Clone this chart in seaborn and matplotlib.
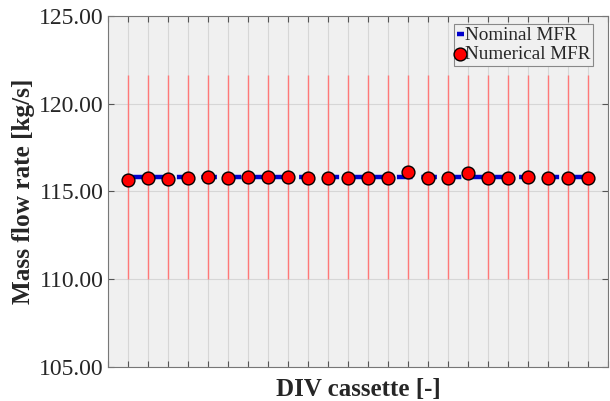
import numpy as np
import pandas as pd
import matplotlib
matplotlib.use("Agg")
import matplotlib.pyplot as plt
import seaborn as sns

cassette = list(range(1, 25))
nominal_mfr = [115.82] * 24
numerical_mfr = [115.65, 115.76, 115.71, 115.78, 115.80, 115.78, 115.80, 115.82,
                 115.80, 115.78, 115.79, 115.78, 115.77, 115.76, 116.12, 115.78,
                 115.77, 116.07, 115.78, 115.79, 115.83, 115.78, 115.78, 115.79]
tolerance = 0.05
y_ticks = [105, 110, 115, 120, 125]

df = pd.DataFrame({"cassette": cassette, "nominal": nominal_mfr, "numerical": numerical_mfr})

sns.set_theme(style="whitegrid")
plt.rcParams["font.family"] = ["Liberation Serif", "DejaVu Serif"]

fig = plt.figure(figsize=(6.10, 4.01), dpi=100)
ax = fig.add_axes([0.177, 0.085, 0.820, 0.875])
ax.set_facecolor("#f0f0f0")

lower = np.array(nominal_mfr) * (1 - tolerance)
upper = np.array(nominal_mfr) * (1 + tolerance)
ax.vlines(df["cassette"], lower, upper, color="#ff7878", lw=1.0, zorder=2)

sns.lineplot(data=df, x="cassette", y="nominal", ax=ax, color="#0000cc", lw=3.2,
             dashes=False, label="Nominal MFR", zorder=3)
ax.lines[-1].set_dashes([3.5, 2])
sns.scatterplot(data=df, x="cassette", y="numerical", ax=ax, color="red",
                edgecolor="black", linewidth=1.0, s=85, label="Numerical MFR", zorder=4)

ax.set_xlim(0, 25)
ax.set_ylim(105, 125)
ax.set_xticks(range(0, 26))
ax.set_xticklabels([])
ax.set_yticks(y_ticks)
ax.set_yticklabels([f"{v:.2f}" for v in y_ticks], fontsize=17)
ax.grid(True, color="#d6d6d6", lw=0.8)
ax.tick_params(axis="both", direction="in", length=4, color="#555555", top=True, right=True,
               bottom=True, left=True, width=0.8, pad=3)
for s in ax.spines.values():
    s.set_color("#777777")
    s.set_linewidth(0.8)

ax.set_xlabel("DIV cassette [-]", fontsize=18, fontweight="bold", labelpad=5)
ax.set_ylabel("Mass flow rate [kg/s]", fontsize=18.2, fontweight="bold", labelpad=3)

leg = ax.legend(loc="upper right", bbox_to_anchor=(0.97, 0.977), fontsize=13.8,
                frameon=True, fancybox=False, handlelength=0.35, handletextpad=0.05,
                borderpad=0.15, labelspacing=0.05, borderaxespad=0.0)
leg.get_frame().set_edgecolor("#888888")
leg.get_frame().set_facecolor("#f0f0f0")
leg.get_frame().set_alpha(1)
leg.get_frame().set_linewidth(0.8)

fig.savefig("out.png", dpi=100)
